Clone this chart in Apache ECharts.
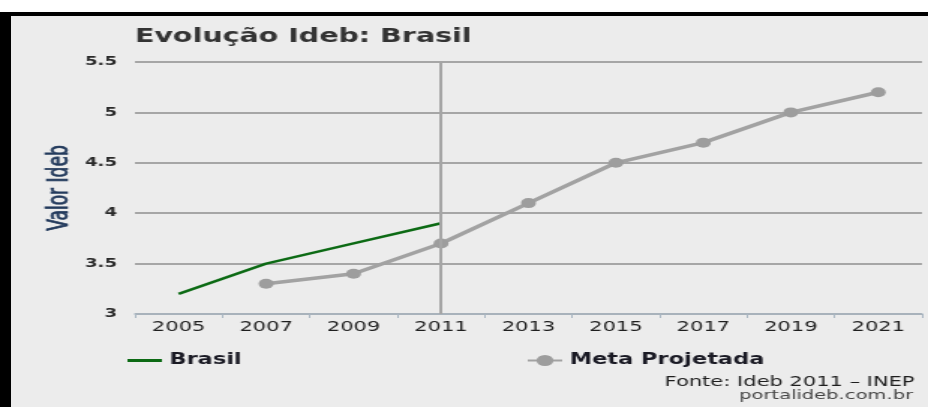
<!DOCTYPE html>
<html>
<head>
<meta charset="utf-8">
<script src="https://cdn.jsdelivr.net/npm/echarts@6/dist/echarts.min.js"></script>
<style>
  html, body { margin: 0; padding: 0; background: #ffffff; width: 928px; height: 407px; overflow: hidden; }
  #frame { position: absolute; left: 0; top: 12px; width: 928px; height: 395px; background: #000; }
  #panel { position: absolute; left: 11px; top: 16px; width: 917px; height: 391px; background: #ececec; }
  #chart { position: absolute; left: 0; top: 0; width: 619px; height: 407px; transform: scaleX(1.4992); transform-origin: 0 0; }
</style>
</head>
<body>
<div id="frame"></div>
<div id="panel"></div>
<div id="chart"></div>
<script>
const years = ['2005', '2007', '2009', '2011', '2013', '2015', '2017', '2019', '2021'];
const brasil = [3.2, 3.5, 3.7, 3.9, null, null, null, null, null];
const metaProjetada = [null, 3.3, 3.4, 3.7, 4.1, 4.5, 4.7, 5.0, 5.2];
const markYear = '2011';
const yMin = 3, yMax = 5.5, yStep = 0.5;

const chart = echarts.init(document.getElementById('chart'), null, { renderer: 'canvas' });
chart.setOption({
  animation: false,
  backgroundColor: 'transparent',
  title: [
    {
      text: 'Evolução Ideb: Brasil',
      left: 90, top: 28, padding: 0,
      textStyle: { fontFamily: 'DejaVu Sans', fontSize: 19, fontWeight: 'bold', color: '#333333' }
    },
    {
      text: 'Fonte: Ideb 2011 – INEP',
      right: 9, top: 375, padding: 0,
      textStyle: { fontFamily: 'DejaVu Sans', fontSize: 14, fontWeight: 'normal', color: '#1e1e1e' }
    },
    {
      text: 'portalideb.com.br',
      right: 10, top: 389, padding: 0,
      textStyle: { fontFamily: 'DejaVu Sans', fontSize: 13, fontWeight: 'normal', color: '#444444' }
    }
  ],
  legend: [
    {
      data: [{ name: 'Brasil', icon: 'rect' }], left: 85, top: 353, padding: 0,
      itemWidth: 23, itemHeight: 3, itemGap: 6,
      textStyle: { fontFamily: 'DejaVu Sans', fontSize: 15, fontWeight: 'bold', color: '#1a1a24' }
    },
    {
      data: ['Meta Projetada'], left: 351, top: 353, padding: 0,
      itemWidth: 23, itemHeight: 14, itemGap: 5,
      textStyle: { fontFamily: 'DejaVu Sans', fontSize: 15, fontWeight: 'bold', color: '#1a1a24' }
    }
  ],
  grid: { left: 90, right: 4, top: 62, bottom: 93, containLabel: false },
  xAxis: {
    type: 'category',
    data: years,
    boundaryGap: true,
    axisLine: { show: true, lineStyle: { color: '#a9b6c2', width: 1.5 } },
    axisTick: { show: true, length: 4, lineStyle: { color: '#a9b6c2', width: 1 } },
    axisLabel: { margin: 6, fontFamily: 'DejaVu Sans', fontSize: 14, color: '#1e1e1e' },
    splitLine: { show: false }
  },
  yAxis: {
    type: 'value',
    min: yMin, max: yMax, interval: yStep,
    name: 'Valor Ideb',
    nameLocation: 'middle',
    nameGap: 40,
    nameMoveOverlap: false,
    nameRotate: 90,
    nameTextStyle: {
      fontFamily: 'DejaVu Sans Condensed, Liberation Sans Narrow, DejaVu Sans',
      fontSize: 19, fontWeight: 'normal', color: '#233a5c',
      textBorderColor: '#233a5c', textBorderWidth: 0.6
    },
    axisLine: { show: false },
    axisTick: { show: false },
    axisLabel: { margin: 12, fontFamily: 'DejaVu Sans', fontSize: 12, fontWeight: 'bold', color: '#2a2a2a' },
    splitLine: { show: true, lineStyle: { color: '#a6a6a6', width: 2 } }
  },
  series: [
    {
      name: 'Brasil',
      type: 'line',
      data: brasil,
      symbol: 'none',
      connectNulls: false,
      lineStyle: { color: '#0c6a14', width: 2.5 },
      itemStyle: { color: '#0c6a14' },
      z: 3
    },
    {
      name: 'Meta Projetada',
      type: 'line',
      data: metaProjetada,
      symbol: 'circle',
      symbolSize: 10,
      connectNulls: false,
      lineStyle: { color: '#a2a2a2', width: 3.5 },
      itemStyle: { color: '#9d9d9d' },
      markLine: {
        silent: true,
        symbol: 'none',
        label: { show: false },
        lineStyle: { color: '#a5a5a5', width: 2, type: 'solid' },
        data: [{ xAxis: markYear }]
      },
      z: 2
    }
  ]
});
</script>
</body>
</html>
